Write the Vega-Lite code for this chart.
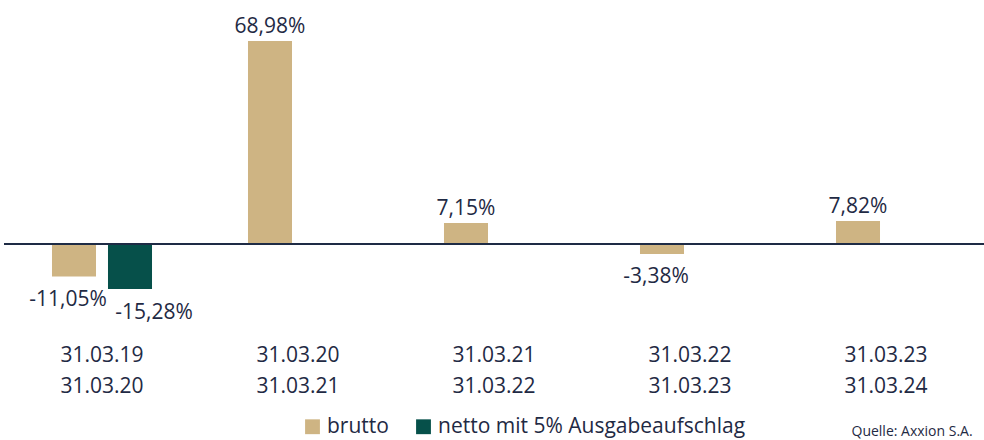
{
  "$schema": "https://vega.github.io/schema/vega-lite/v6.json",
  "width": 980,
  "height": 330,
  "autosize": "none",
  "padding": {"left": 4, "top": 0, "right": 0, "bottom": 110},
  "background": "white",
  "config": {
    "view": {"stroke": null},
    "font": "Open Sans",
    "text": {"font": "Open Sans"}
  },
  "data": {
    "values": [
      {"period": "31.03.19|31.03.20", "series": "brutto", "value": -11.05, "label": "-11,05%"},
      {"period": "31.03.19|31.03.20", "series": "netto mit 5% Ausgabeaufschlag", "value": -15.28, "label": "-15,28%"},
      {"period": "31.03.20|31.03.21", "series": "brutto", "value": 68.98, "label": "68,98%"},
      {"period": "31.03.21|31.03.22", "series": "brutto", "value": 7.15, "label": "7,15%"},
      {"period": "31.03.22|31.03.23", "series": "brutto", "value": -3.38, "label": "-3,38%"},
      {"period": "31.03.23|31.03.24", "series": "brutto", "value": 7.82, "label": "7,82%"}
    ]
  },
  "encoding": {
    "x": {
      "field": "period",
      "type": "nominal",
      "sort": null,
      "title": "Quelle: Axxion S.A.",
      "scale": {"paddingInner": 0, "paddingOuter": 0},
      "axis": {
        "domain": false,
        "ticks": false,
        "labelAngle": 0,
        "labelExpr": "split(datum.label, '|')",
        "labelFont": "Open Sans",
        "labelFontSize": 21,
        "labelColor": "#1F2A44",
        "labelLineHeight": 31,
        "labelPadding": 14,
        "titleFont": "Open Sans",
        "titleFontSize": 14,
        "titleFontWeight": "normal",
        "titleColor": "#1F2A44",
        "titleAlign": "left",
        "titleBaseline": "top",
        "titleX": 847,
        "titleY": 94
      }
    },
    "xOffset": {
      "field": "series",
      "type": "nominal",
      "sort": ["brutto", "netto mit 5% Ausgabeaufschlag"],
      "scale": {"domain": ["brutto", "netto mit 5% Ausgabeaufschlag"], "paddingInner": 0.214, "paddingOuter": 0.857}
    }
  },
  "layer": [
    {
      "mark": {"type": "bar"},
      "encoding": {
        "y": {
          "field": "value",
          "type": "quantitative",
          "scale": {"domain": [-29.22, 82.9], "nice": false, "zero": false},
          "axis": null
        },
        "color": {
          "field": "series",
          "type": "nominal",
          "scale": {"domain": ["brutto", "netto mit 5% Ausgabeaufschlag"], "range": ["#CEB483", "#06504A"]},
          "legend": {
            "title": null,
            "orient": "none",
            "legendX": 298,
            "legendY": 416,
            "direction": "horizontal",
            "symbolType": "square",
            "symbolSize": 220,
            "symbolStrokeWidth": 0,
            "labelFont": "Open Sans",
            "labelFontSize": 21,
            "labelColor": "#1F2A44",
            "labelLimit": 0,
            "columnPadding": 24
          }
        }
      }
    },
    {
      "mark": {"type": "rule", "color": "#1E2B45", "strokeWidth": 2},
      "encoding": {
        "y": {"datum": 0, "type": "quantitative"},
        "x": {},
        "xOffset": {}
      }
    },
    {
      "transform": [{"filter": "datum.value >= 0"}],
      "mark": {"type": "text", "baseline": "bottom", "dy": -4, "fontSize": 21, "color": "#1F2A44"},
      "encoding": {
        "y": {"field": "value", "type": "quantitative"},
        "text": {"field": "label"}
      }
    },
    {
      "transform": [{"filter": "datum.value < 0 && datum.series == 'brutto'"}],
      "mark": {"type": "text", "baseline": "top", "dy": 12, "dx": -6, "fontSize": 21, "color": "#1F2A44"},
      "encoding": {
        "y": {"field": "value", "type": "quantitative"},
        "text": {"field": "label"}
      }
    },
    {
      "transform": [{"filter": "datum.value < 0 && datum.series != 'brutto'"}],
      "mark": {"type": "text", "baseline": "top", "dy": 13, "dx": 24, "fontSize": 21, "color": "#1F2A44"},
      "encoding": {
        "y": {"field": "value", "type": "quantitative"},
        "text": {"field": "label"}
      }
    }
  ]
}
